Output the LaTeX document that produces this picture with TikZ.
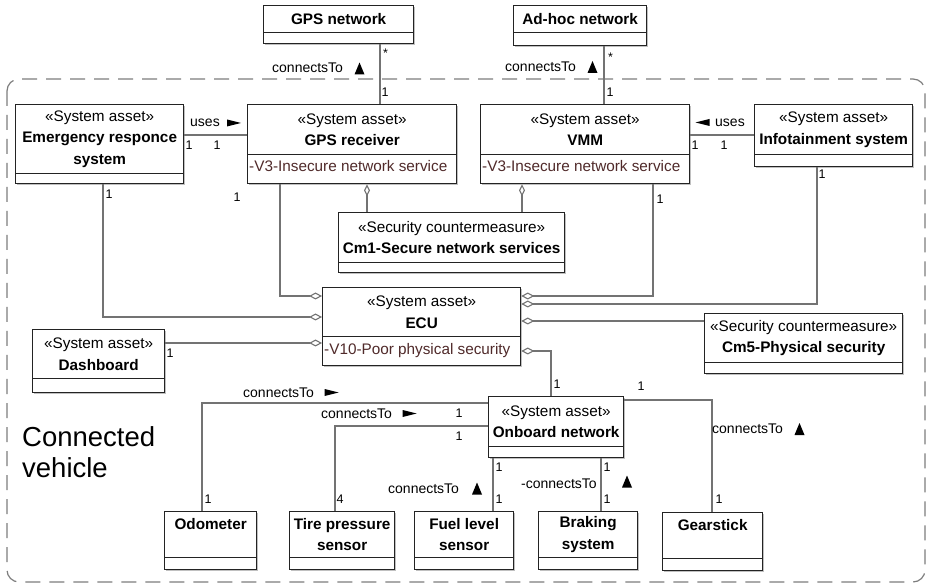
\documentclass[tikz,border=0pt]{standalone}
\usepackage{fontspec}
\setmainfont{Liberation Sans}
\usetikzlibrary{calc,arrows.meta,shadows}
\definecolor{lineg}{RGB}{115,115,115}
\definecolor{boxc}{RGB}{35,35,35}
\definecolor{attrc}{RGB}{80,42,42}
\definecolor{frameg}{RGB}{125,125,125}
\newcommand{\umlclass}[7]{%
  \node[cbox, anchor=north west, minimum width={#3-#2}, minimum height={#5-#4}] (#1) at (#2,#4) {#7};
  \node[cbox, anchor=north west, minimum width={#3-#2}, minimum height={#6-#5}] (#1-a) at (#2,#5) {};}
\tikzset{
  tri up/.pic={\fill[black] (-5,6) -- (5,6) -- (0,-6) -- cycle;},
  tri right/.pic={\fill[black] (-7,-3.5) -- (-7,3.5) -- (7,0) -- cycle;},
  tri left/.pic={\fill[black] (7,-3.5) -- (7,3.5) -- (-7,0) -- cycle;}
}
\begin{document}
\begin{tikzpicture}[x=1pt,y=-1pt,
  cbox/.style={draw=boxc, line width=1.3pt, fill=white, inner sep=0pt, align=center,
    font=\fontsize{15.3}{21.5}\selectfont,
    drop shadow={shadow xshift=1.8pt, shadow yshift=-1.8pt, fill=black!35, opacity=0.7}},
  attr/.style={anchor=base west, inner sep=0pt, text=attrc, font=\fontsize{15.3}{18}\selectfont},
  conn/.style={draw=lineg, line width=1.1pt},
  aggend/.style={-{Diamond[open, length=13pt, width=7pt]}},
  aggstart/.style={{Diamond[open, length=12pt, width=6pt]}-},
  lab/.style={anchor=west, inner sep=0pt, font=\fontsize{14}{16}\selectfont},
  mul/.style={inner sep=0pt, font=\fontsize{12.5}{14}\selectfont},
  frm/.style={draw=frameg, line width=1.2pt, dash pattern=on 15pt off 9pt, rounded corners=12pt}
]
\useasboundingbox (0,0) rectangle (930,588);
\fill[white] (0,0) rectangle (930,588);

% frame
\draw[frm] (7,79) rectangle (925,582);
\node[anchor=west, align=left, inner sep=0pt, font=\fontsize{27.5}{31}\selectfont] (cv) at (22,452.5) {Connected\\vehicle};

% classes
\umlclass{gpsnet}{263}{413}{5}{32}{43}{\textbf{GPS network}}
\umlclass{adhoc}{513}{646}{5}{32}{45}{\textbf{Ad-hoc network}}
\umlclass{emerg}{15}{183}{104}{173}{183}{«System asset»\\\textbf{Emergency responce}\\\textbf{system}}
\umlclass{gpsr}{247}{456}{104}{154}{183}{«System asset»\\\textbf{GPS receiver}}
\umlclass{vmm}{480}{689}{104}{154}{183}{«System asset»\\\textbf{VMM}}
\umlclass{info}{754}{912}{104}{154}{166}{«System asset»\\\textbf{Infotainment system}}
\umlclass{cm1}{338}{564}{212}{262}{272}{«Security countermeasure»\\\textbf{Cm1-Secure network services}}
\umlclass{ecu}{322}{520}{287}{336}{365}{«System asset»\\\textbf{ECU}}
\umlclass{cm5}{704}{902}{313}{362}{373}{«Security countermeasure»\\\textbf{Cm5-Physical security}}
\umlclass{dash}{32}{164}{329}{378}{392}{«System asset»\\\textbf{Dashboard}}
\umlclass{onboard}{488}{623}{396}{446}{457}{«System asset»\\\textbf{Onboard network}}
\umlclass{odo}{164}{256}{511}{557}{569}{\textbf{Odometer}\\\phantom{\textbf{sensor}}}
\umlclass{tire}{289}{394}{511}{557}{569}{\textbf{Tire pressure}\\\textbf{sensor}}
\umlclass{fuel}{414}{513}{511}{557}{569}{\textbf{Fuel level}\\\textbf{sensor}}
\umlclass{brake}{538}{637}{511}{557}{569}{\textbf{Braking}\\\textbf{system}}
\umlclass{gear}{662}{762}{512}{558}{570}{\textbf{Gearstick}\\\phantom{\textbf{sensor}}}

\node[attr] (gpsr-t) at ($(gpsr-a.north west)+(2,18)$) {-V3-Insecure network service};
\node[attr] (vmm-t) at ($(vmm-a.north west)+(2,18)$) {-V3-Insecure network service};
\node[attr] (ecu-t) at ($(ecu-a.north west)+(2,19)$) {-V10-Poor physical security};

% connectors
\draw[conn] ($(gpsnet-a.south west)+(117,0)$) -- ($(gpsr.north west)+(133,0)$);
\draw[conn] ($(adhoc-a.south west)+(91,0)$) -- ($(vmm.north west)+(124,0)$);
\draw[conn] ($(emerg.north east)+(0,31)$) -- ($(gpsr.north west)+(0,31)$);
\draw[conn] ($(vmm.north east)+(0,31)$) -- ($(info.north west)+(0,31)$);
\draw[conn, aggend] ($(emerg-a.south west)+(88,0)$) |- ($(ecu.north west)+(0,30)$);
\draw[conn, aggend] ($(gpsr-a.south west)+(33,0)$) |- ($(ecu.north west)+(0,9)$);
\draw[conn, aggstart] ($(gpsr-a.south west)+(120,0)$) -- ($(cm1.north west)+(29,0)$);
\draw[conn, aggstart] ($(vmm-a.south west)+(42,0)$) -- ($(cm1.north west)+(184,0)$);
\draw[conn, aggend] ($(vmm-a.south west)+(173,0)$) |- ($(ecu.north east)+(0,9)$);
\draw[conn, aggend] ($(info-a.south west)+(63,0)$) |- ($(ecu.north east)+(0,17)$);
\draw[conn, aggend] ($(cm5.north west)+(0,8)$) -- ($(ecu.north east)+(0,34)$);
\draw[conn, aggend] ($(dash.north east)+(0,14)$) -- ($(ecu-a.north west)+(0,7)$);
\draw[conn, aggend] ($(onboard.north west)+(63,0)$) |- ($(ecu-a.north east)+(0,15)$);
\draw[conn] ($(onboard.north west)+(0,7)$) -| ($(odo.north west)+(38,0)$);
\draw[conn] ($(onboard.north west)+(0,30)$) -| ($(tire.north west)+(46,0)$);
\draw[conn] ($(onboard-a.south west)+(5,0)$) -- ($(fuel.north west)+(79,0)$);
\draw[conn] ($(onboard-a.south west)+(113,0)$) -- ($(brake.north west)+(63,0)$);
\draw[conn] ($(onboard.north east)+(0,4)$) -| ($(gear.north west)+(50,0)$);

% labels
\node[lab] (l1) at (272,67.5) {connectsTo};
\pic at (359.5,68.5) {tri up};
\node[lab] (l2) at (505,67) {connectsTo};
\pic at (592.5,67) {tri up};
\node[lab] (l3) at (190,122.5) {uses};
\pic at (234,123) {tri right};
\node[lab] (l4) at (715,122.5) {uses};
\pic at (702.5,122.5) {tri left};
\node[lab] (l5) at (243,392.5) {connectsTo};
\pic at (331.5,392.5) {tri right};
\node[lab] (l6) at (321,414) {connectsTo};
\pic at (409.5,413.5) {tri right};
\node[lab] (l7) at (388,489) {connectsTo};
\pic at (477,488.5) {tri up};
\node[lab] (l8) at (521,484) {-connectsTo};
\pic at (627,481.5) {tri up};
\node[lab] (l9) at (712,429) {connectsTo};
\pic at (799.5,429) {tri up};

% multiplicities
\node[mul, anchor=base west] (m1) at (383,58) {*};
\node[mul] (m2) at (385,92) {1};
\node[mul, anchor=base west] (m3) at (608,62) {*};
\node[mul] (m4) at (610,92) {1};
\node[mul] (m5) at (189,145) {1};
\node[mul] (m6) at (217,145) {1};
\node[mul] (m7) at (695,145) {1};
\node[mul] (m8) at (724,145) {1};
\node[mul] (m9) at (109,194) {1};
\node[mul] (m10) at (237,197) {1};
\node[mul] (m11) at (660,199) {1};
\node[mul] (m12) at (822,174) {1};
\node[mul] (m13) at (170,353) {1};
\node[mul] (m14) at (557,384) {1};
\node[mul] (m15) at (641,386) {1};
\node[mul] (m16) at (459,413) {1};
\node[mul] (m17) at (459,436) {1};
\node[mul] (m18) at (208,499) {1};
\node[mul] (m19) at (340,499) {4};
\node[mul] (m20) at (499,467) {1};
\node[mul] (m21) at (499,499) {1};
\node[mul] (m22) at (607,467) {1};
\node[mul] (m23) at (607,499) {1};
\node[mul] (m24) at (719,499) {1};
\end{tikzpicture}
\end{document}
